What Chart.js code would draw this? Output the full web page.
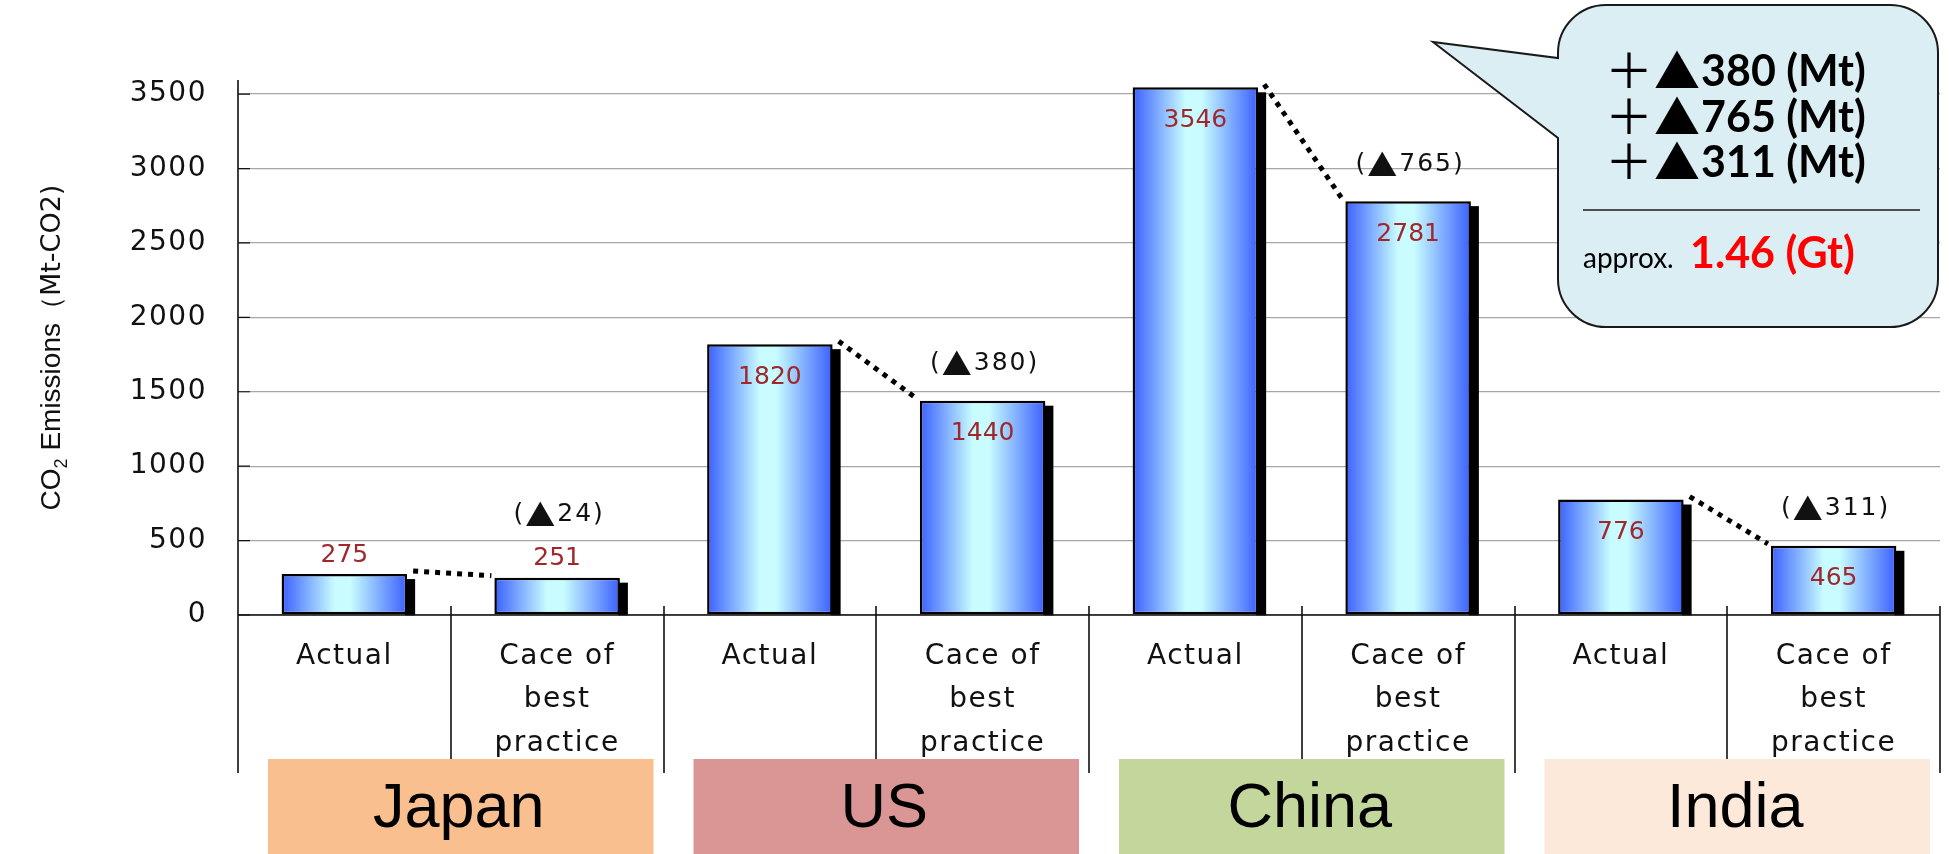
<!DOCTYPE html>
<html>
<head>
<meta charset="utf-8">
<script src="https://cdn.jsdelivr.net/npm/chart.js@4.4.1/dist/chart.umd.min.js"></script>
<style>
  html, body { margin: 0; padding: 0; background: #fff; }
  #wrap { width: 1949px; height: 854px; position: relative; }
</style>
</head>
<body>
<div id="wrap"><canvas id="chart"></canvas></div>
<script>
const countries = ["Japan", "US", "China", "India"];
const caseLabels = [["Actual"], ["Cace of", "best", "practice"]];
const actualValues = [275, 1820, 3546, 776];
const bestPracticeValues = [251, 1440, 2781, 465];
const yTicks = [0, 500, 1000, 1500, 2000, 2500, 3000, 3500];
const countryColors = ["#f9bf8f", "#d99694", "#c3d69b", "#fde9d9"];
const calloutCountries = ["US", "China", "India"];

const BAR_PCT = 0.59;

// one bar per case, actual then best practice for each country
const labels = [];
const values = [];
countries.forEach((c, i) => {
  labels.push(caseLabels[0]);
  values.push(actualValues[i]);
  labels.push(caseLabels[1]);
  values.push(bestPracticeValues[i]);
});

function isSmall(el) {
  return (el.base - el.y) < 60;
}

const shadowPlugin = {
  id: "shadow",
  beforeDraw(chart) {
    chart.ctx.letterSpacing = "1.5px";
  },
  beforeDatasetsDraw(chart) {
    const ctx = chart.ctx;
    const meta = chart.getDatasetMeta(0);
    ctx.save();
    ctx.fillStyle = "#000";
    meta.data.forEach(el => {
      const right = el.x + el.width / 2;
      ctx.fillRect(right - 2, el.y + 5, 10, el.base - el.y - 4);
      // horizontal gradient across each bar
      const g = ctx.createLinearGradient(el.x - el.width / 2, 0, el.x + el.width / 2, 0);
      g.addColorStop(0, "#3a60ff");
      g.addColorStop(0.42, "#c8fcff");
      g.addColorStop(0.55, "#c8fcff");
      g.addColorStop(1, "#3a60ff");
      el.options.backgroundColor = g;
    });
    ctx.restore();
  }
};

const labelPlugin = {
  id: "barLabels",
  afterDatasetsDraw(chart) {
    const ctx = chart.ctx;
    const meta = chart.getDatasetMeta(0);
    ctx.save();
    ctx.letterSpacing = "0px";

    // dotted lines between actual and best practice
    ctx.strokeStyle = "#000";
    ctx.lineWidth = 5;
    ctx.setLineDash([5, 6]);
    for (let i = 0; i < countries.length; i++) {
      const a = meta.data[i * 2];
      const b = meta.data[i * 2 + 1];
      ctx.beginPath();
      ctx.moveTo(a.x + a.width / 2 + 6, a.y - 3);
      ctx.lineTo(b.x - b.width / 2 - 3, b.y - 2);
      ctx.stroke();
    }
    ctx.setLineDash([]);

    // values
    ctx.font = "25px 'DejaVu Sans'";
    ctx.fillStyle = "#a0282d";
    ctx.textAlign = "center";
    ctx.textBaseline = "middle";
    meta.data.forEach((el, i) => {
      const y = isSmall(el) ? el.y - 19 : el.y + 33;
      ctx.fillText(String(values[i]), el.x, y);
    });

    // reductions
    ctx.fillStyle = "#111";
    ctx.letterSpacing = "2px";
    for (let i = 0; i < countries.length; i++) {
      const b = meta.data[i * 2 + 1];
      const diff = actualValues[i] - bestPracticeValues[i];
      const y = isSmall(b) ? b.y - 63 : b.y - 37;
      ctx.font = "25px 'DejaVu Sans'";
      const w1 = ctx.measureText("(").width;
      ctx.font = "30px 'Noto Sans CJK JP'";
      const w2 = ctx.measureText("▲").width;
      ctx.font = "25px 'DejaVu Sans'";
      const w3 = ctx.measureText(diff + ")").width;
      let x = b.x + 2 - (w1 + w2 + w3) / 2;
      ctx.textAlign = "left";
      ctx.fillText("(", x, y);
      x += w1;
      ctx.font = "30px 'Noto Sans CJK JP'";
      ctx.fillText("▲", x, y);
      x += w2;
      ctx.font = "25px 'DejaVu Sans'";
      ctx.fillText(diff + ")", x, y);
    }
    ctx.restore();
  }
};

const framePlugin = {
  id: "frame",
  afterDraw(chart) {
    const ctx = chart.ctx;
    const xs = chart.scales.x;
    const ys = chart.scales.y;
    const area = chart.chartArea;
    const catW = xs.width / labels.length;
    const boxTop = 759;
    ctx.save();
    ctx.letterSpacing = "0px";

    // country boxes
    countries.forEach((c, i) => {
      const gl = xs.left + i * 2 * catW;
      const gr = gl + 2 * catW;
      ctx.fillStyle = countryColors[i];
      ctx.fillRect(gl + 30, boxTop, gr - gl - 40, chart.height - boxTop);
      ctx.fillStyle = "#000";
      ctx.font = "63px 'Liberation Sans'";
      ctx.textAlign = "center";
      ctx.textBaseline = "middle";
      ctx.fillText(c, (gl + gr) / 2 + 8, 810);
    });

    // axes and separators
    ctx.strokeStyle = "#111";
    ctx.lineWidth = 1.6;
    const base = ys.getPixelForValue(0);
    ctx.beginPath();
    ctx.moveTo(area.left, base);
    ctx.lineTo(area.right, base);
    ctx.moveTo(area.left, area.top);
    ctx.lineTo(area.left, 773);
    for (let i = 1; i <= labels.length; i++) {
      const x = Math.round(xs.left + i * catW);
      ctx.moveTo(x, base - 9);
      ctx.lineTo(x, i % 2 ? boxTop : 773);
    }
    ctx.stroke();

    // small ticks on the value axis
    ctx.lineWidth = 1.2;
    ctx.beginPath();
    yTicks.forEach(v => {
      const y = ys.getPixelForValue(v);
      ctx.moveTo(area.left, y);
      ctx.lineTo(area.left + 12, y);
    });
    ctx.stroke();

    // axis title
    ctx.save();
    ctx.translate(50, (area.top + area.bottom) / 2);
    ctx.rotate(-Math.PI / 2);
    const parts = [
      { t: "CO", f: "28px 'Liberation Sans'", dy: 0 },
      { t: "2", f: "18px 'Liberation Sans'", dy: 7 },
      { t: " Emissions", f: "28px 'Liberation Sans'", dy: 0 },
      { t: "（Mt-CO2)", f: "27px 'DejaVu Sans'", dy: 0 }
    ];
    let total = 0;
    parts.forEach(p => { ctx.font = p.f; p.w = ctx.measureText(p.t).width; total += p.w; });
    let px = -total / 2;
    ctx.fillStyle = "#111";
    ctx.textAlign = "left";
    ctx.textBaseline = "alphabetic";
    parts.forEach(p => {
      ctx.font = p.f;
      ctx.fillText(p.t, px, 10 + p.dy);
      px += p.w;
    });
    ctx.restore();

    drawCallout(ctx);
    ctx.restore();
  }
};

function drawCallout(ctx) {
  const L = 1558, R = 1938, T = 5, B = 327, r = 48;
  const tipX = 1433, tipY = 42, p1 = 58, p2 = 138;
  ctx.beginPath();
  ctx.moveTo(L + r, T);
  ctx.lineTo(R - r, T);
  ctx.arcTo(R, T, R, T + r, r);
  ctx.lineTo(R, B - r);
  ctx.arcTo(R, B, R - r, B, r);
  ctx.lineTo(L + r, B);
  ctx.arcTo(L, B, L, B - r, r);
  ctx.lineTo(L, p2);
  ctx.lineTo(tipX, tipY);
  ctx.lineTo(L, p1);
  ctx.lineTo(L, T + r);
  ctx.arcTo(L, T, L + r, T, r);
  ctx.closePath();
  ctx.fillStyle = "#dbeef4";
  ctx.fill();
  ctx.strokeStyle = "#1a1a1a";
  ctx.lineWidth = 2;
  ctx.stroke();

  ctx.fillStyle = "#000";
  ctx.textBaseline = "alphabetic";
  let sum = 0;
  calloutCountries.forEach((c, k) => {
    const i = countries.indexOf(c);
    const diff = actualValues[i] - bestPracticeValues[i];
    sum += diff;
    const y = 86 + k * 45.5;
    ctx.textAlign = "center";
    ctx.font = "48px 'Noto Sans CJK JP'";
    ctx.fillText("＋", 1629, y + 2);
    ctx.font = "46px 'Noto Sans CJK JP'";
    ctx.fillText("▲", 1677, y + 2);
    ctx.textAlign = "left";
    ctx.font = "bold 43px Lato";
    ctx.fillText(diff + " (Mt)", 1701, y);
  });

  ctx.lineWidth = 1.6;
  ctx.beginPath();
  ctx.moveTo(1583, 210);
  ctx.lineTo(1920, 210);
  ctx.stroke();

  ctx.textAlign = "left";
  ctx.font = "28px Lato";
  ctx.fillText("approx.", 1583, 268);
  ctx.fillStyle = "#ff0000";
  ctx.font = "bold 43px Lato";
  ctx.fillText((sum / 1000).toFixed(2) + " (Gt)", 1690, 268);
}

new Chart(document.getElementById("chart"), {
  type: "bar",
  data: {
    labels: labels,
    datasets: [{
      data: values,
      backgroundColor: () => "#3a60ff",
      borderColor: "#000",
      borderWidth: 2.5,
      borderSkipped: false,
      categoryPercentage: 1,
      barPercentage: BAR_PCT
    }]
  },
  options: {
    responsive: true,
    maintainAspectRatio: false,
    animation: false,
    events: [],
    layout: { padding: { top: 80, right: 9, left: 0, bottom: 0 } },
    plugins: {
      legend: { display: false },
      tooltip: { enabled: false }
    },
    scales: {
      x: {
        grid: { display: false },
        border: { display: false },
        ticks: {
          color: "#111",
          font: { family: "'DejaVu Sans'", size: 28, lineHeight: 1.55 },
          padding: 12,
          maxRotation: 0,
          autoSkip: false
        },
        afterFit(scale) { scale.height = 239; }
      },
      y: {
        min: 0,
        max: 3595,
        grid: { color: "#a6a6a6", lineWidth: 1.3, drawTicks: false },
        border: { display: false },
        ticks: {
          color: "#111",
          font: { family: "'DejaVu Sans'", size: 28 },
          padding: 31,
          callback: v => String(v)
        },
        afterBuildTicks(scale) {
          scale.ticks = yTicks.map(v => ({ value: v }));
        },
        afterFit(scale) { scale.width = 238; }
      }
    }
  },
  plugins: [shadowPlugin, labelPlugin, framePlugin]
});
</script>
</body>
</html>
